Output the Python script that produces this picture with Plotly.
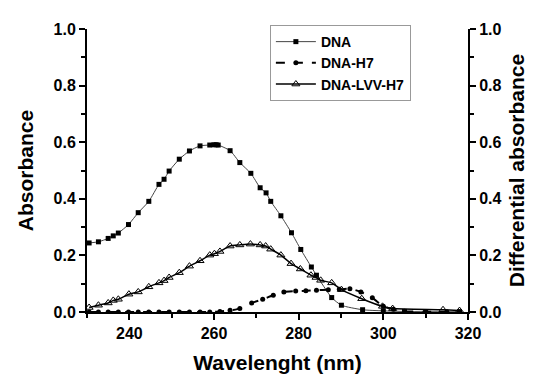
import plotly.graph_objects as go

# DNA (squares)
dna_wl = [230.5, 232.7, 235.0, 236.2, 237.4, 239.8, 242.1, 244.6, 247.0, 248.2, 249.4, 251.8,
          254.2, 256.7, 259.0, 260.0, 260.5, 261.0, 263.8, 266.1, 268.7, 270.9, 272.3, 273.4,
          275.8, 278.3, 280.5, 283.0, 284.2, 287.8, 290.1, 295.1, 300.0, 305.0, 310.0, 318.0]
dna_abs = [0.244, 0.248, 0.260, 0.269, 0.279, 0.309, 0.351, 0.391, 0.451, 0.469, 0.498, 0.540,
           0.569, 0.587, 0.590, 0.591, 0.591, 0.590, 0.570, 0.528, 0.490, 0.439, 0.421, 0.391,
           0.340, 0.280, 0.221, 0.159, 0.130, 0.051, 0.024, 0.008, 0.004, 0.002, 0.001, 0.001]

# DNA-H7 (circles)
h7_wl = [230.5, 232.7, 235.0, 237.4, 239.8, 242.1, 244.6, 247.0, 249.4, 251.8, 254.2, 256.7,
         259.0, 261.4, 263.8, 266.1, 268.9, 271.5, 274.0, 276.5, 279.3, 281.7, 284.2, 287.0,
         289.6, 292.1, 294.7, 297.4, 300.0, 302.4, 305.0, 310.0, 315.0, 318.0]
h7_abs = [0.0, 0.0, 0.0, 0.0, 0.0, 0.0, 0.0, 0.0, 0.0, 0.0, 0.0, 0.0,
          0.0, 0.002, 0.006, 0.012, 0.032, 0.045, 0.059, 0.071, 0.074, 0.075, 0.077, 0.079,
          0.080, 0.082, 0.071, 0.050, 0.020, 0.010, 0.003, 0.001, 0.001, 0.001]

# DNA-LVV-H7 (open triangles)
lvv_wl = [230.5, 232.7, 235.0, 236.2, 237.4, 239.9, 242.1, 244.6, 247.0, 248.2, 249.4, 251.8,
          254.2, 256.7, 259.0, 260.1, 261.4, 263.8, 266.1, 268.6, 270.9, 272.2, 273.4, 275.8,
          278.2, 280.4, 282.9, 284.1, 285.2, 287.8, 290.1, 294.9, 299.8, 302.2, 314.1, 318.0]
lvv_abs = [0.016, 0.024, 0.032, 0.041, 0.045, 0.063, 0.071, 0.089, 0.103, 0.111, 0.122, 0.139,
           0.162, 0.181, 0.201, 0.206, 0.214, 0.233, 0.237, 0.240, 0.237, 0.233, 0.222, 0.201,
           0.171, 0.152, 0.130, 0.122, 0.112, 0.103, 0.079, 0.047, 0.020, 0.012, 0.008, 0.005]

FONT = "Liberation Sans, Arial, sans-serif"

fig = go.Figure()
fig.add_trace(go.Scatter(
    x=dna_wl, y=dna_abs, name="DNA", mode="lines+markers",
    line=dict(color="#444444", width=1, shape="spline", smoothing=0.6),
    marker=dict(symbol="square", size=5, color="black", line=dict(width=0))))
fig.add_trace(go.Scatter(
    x=h7_wl, y=h7_abs, name="DNA-H7", mode="lines+markers",
    line=dict(color="black", width=2, dash="dash", shape="spline", smoothing=0.6),
    marker=dict(symbol="circle", size=5, color="black", line=dict(width=0))))
fig.add_trace(go.Scatter(
    x=lvv_wl, y=lvv_abs, name="DNA-LVV-H7", mode="lines+markers",
    line=dict(color="black", width=1.5, shape="spline", smoothing=0.6),
    marker=dict(symbol="triangle-up-open", size=7, color="black", line=dict(width=1))))
# invisible trace to anchor the right axis
fig.add_trace(go.Scatter(x=[230], y=[0], yaxis="y2", mode="markers",
                         marker=dict(opacity=0), showlegend=False, hoverinfo="skip"))

axis_common = dict(showline=True, linewidth=2, linecolor="black", ticks="outside",
                   ticklen=6, tickwidth=2, tickcolor="black", showgrid=False, zeroline=False,
                   automargin=False,
                   tickfont=dict(family=FONT, size=16, color="black", weight="bold"))
minor_common = dict(ticklen=4, tickwidth=2, tickcolor="black", ticks="outside")
title_font = dict(family=FONT, size=21, weight="bold", color="black")

fig.update_layout(
    width=544, height=374,
    margin=dict(l=79, r=84, t=21, b=70),
    paper_bgcolor="white", plot_bgcolor="white",
    font=dict(family=FONT, color="black"),
    xaxis=dict(range=[230, 320], tick0=240, dtick=20,
               minor=dict(dtick=10, **minor_common),
               title=dict(text="Wavelenght (nm)", font=title_font, standoff=14),
               **axis_common),
    yaxis=dict(range=[0, 1], dtick=0.2, tickformat=".1f",
               minor=dict(dtick=0.1, **minor_common),
               title=dict(text="Absorbance", font=title_font, standoff=14),
               **axis_common),
    yaxis2=dict(range=[0, 1], dtick=0.2, tickformat=".1f", overlaying="y", side="right",
                minor=dict(dtick=0.1, **minor_common),
                title=dict(text="Differential absorbance", font=title_font, standoff=9),
                **axis_common),
    legend=dict(x=0.48, y=1.014, xanchor="left", yanchor="top",
                bordercolor="#999999", borderwidth=1, bgcolor="white",
                font=dict(family=FONT, size=14, weight="bold", color="black"),
                tracegroupgap=0, itemwidth=40),
    showlegend=True,
)

fig.write_html("out.html")
